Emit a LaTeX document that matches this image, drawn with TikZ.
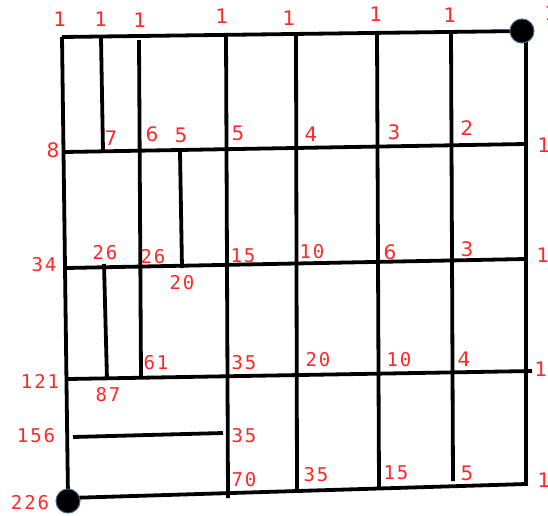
\documentclass[tikz,border=0pt]{standalone}
\usepackage{fontspec}
\setmainfont{DejaVu Sans}
\newfontfamily\digmono[LetterSpace=10]{DejaVu Sans Mono}
\definecolor{numred}{RGB}{255,40,40}
\definecolor{dotrim}{RGB}{60,100,140}

\begin{document}
\begin{tikzpicture}[x=1pt,y=-1pt,line width=3.8pt,
  num/.style={text=numred,anchor=center,inner sep=0pt,font=\fontsize{20}{22}\selectfont},
  mono/.style={text=numred,anchor=center,inner sep=0pt,font=\digmono\fontsize{19}{22}\selectfont},
  dot/.style={fill=black,draw=dotrim,line width=1pt}]
\path[use as bounding box] (0,0) rectangle (548,515);
% frame
\coordinate (tl) at (62,37);
\coordinate (tr) at (522,31);
\coordinate (br) at (526,484);
\coordinate (bl) at (68,498);
\draw (tl) -- (tr) (526,31) -- (br) -- (bl) -- (tl);
% rows
\draw (64,152) -- (525,144);
\draw (66,268) -- (525,259);
\draw (68,379) -- (532,371);
\draw (73,437) -- (223,433);
% columns
\draw (101,38) -- (103,151);
\draw (139,40) -- (141,377);
\draw (180,152) -- (182,268);
\draw (104,264) -- (107,380);
\draw (226,33) -- (228,498);
\draw (296,36) -- (297,489);
\draw (377,33) -- (379,487);
\draw (451,32) -- (453,481);
\draw[dot] (tr) circle (12);
\draw[dot] (68,501) circle (12);
% top
\node[num] (t1) at (60,19) {1};
\node[num] (t2) at (101,19) {1};
\node[num] (t3) at (140,20) {1};
\node[num] (t4) at (222,16) {1};
\node[num] (t5) at (289,18) {1};
\node[num] (t6) at (376,14) {1};
\node[num] (t7) at (450,15) {1};
\node[num] (t8) at (551,13) {1};
% row 1
\node[num] (a0) at (53,150) {8};
\node[num] (a1) at (111,138) {7};
\node[num] (a2) at (152,134) {6};
\node[num] (a3) at (181,135) {5};
\node[num] (a4) at (238,133) {5};
\node[num] (a5) at (311,134) {4};
\node[num] (a6) at (394,132) {3};
\node[num] (a7) at (467,128) {2};
\node[num] (a8) at (544,145) {1};
% row 2
\node[mono] (b0) at (44,265) {34};
\node[mono] (b1) at (105,253) {26};
\node[mono] (b2) at (153,257) {26};
\node[mono] (b3) at (182,283) {20};
\node[mono] (b4) at (243,256) {15};
\node[mono] (b5) at (312,252) {10};
\node[num] (b6) at (390,252) {6};
\node[num] (b7) at (467,249) {3};
\node[num] (b8) at (543,255) {1};
% row 3
\node[mono] (c0) at (40,381) {121};
\node[mono] (c1) at (108,395) {87};
\node[mono] (c2) at (156,363) {61};
\node[mono] (c3) at (244,363) {35};
\node[mono] (c4) at (318,360) {20};
\node[mono] (c5) at (399,360) {10};
\node[num] (c6) at (464,359) {4};
\node[num] (c7) at (541,369) {1};
% row 4
\node[mono] (d0) at (36,436) {156};
\node[mono] (d1) at (244,436) {35};
% bottom
\node[mono] (e0) at (30,503) {226};
\node[mono] (e1) at (244,480) {70};
\node[mono] (e2) at (316,475) {35};
\node[mono] (e3) at (396,473) {15};
\node[num] (e4) at (467,473) {5};
\node[num] (e5) at (544,480) {1};
\end{tikzpicture}
\end{document}
